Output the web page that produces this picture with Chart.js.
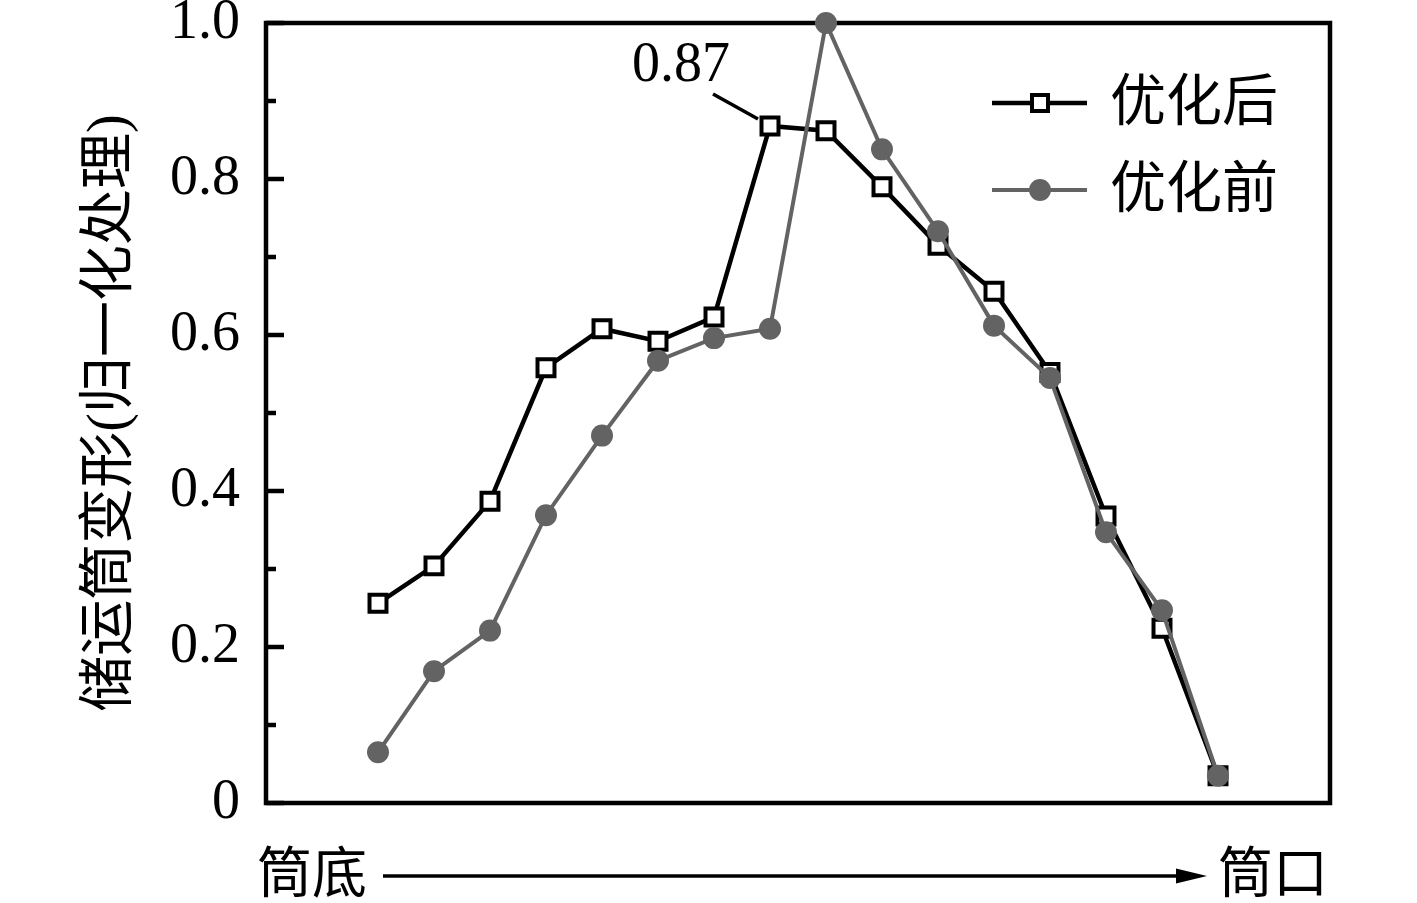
<!DOCTYPE html>
<html>
<head>
<meta charset="utf-8">
<script src="https://cdn.jsdelivr.net/npm/chart.js@4"></script>
<style>
  html, body { margin: 0; padding: 0; background: #fff; }
  #wrap { width: 1417px; height: 903px; position: relative; }
</style>
</head>
<body>
<div id="wrap"><canvas id="c"></canvas></div>
<script>
// ---- data ----
const positions = [1, 2, 3, 4, 5, 6, 7, 8, 9, 10, 11, 12, 13, 14, 15, 16];
const afterValues = [0.256, 0.304, 0.387, 0.558, 0.608, 0.592, 0.623, 0.868, 0.862, 0.790, 0.715, 0.656, 0.552, 0.368, 0.224, 0.035];
const beforeValues = [0.065, 0.169, 0.221, 0.369, 0.471, 0.567, 0.596, 0.608, 1.0, 0.838, 0.733, 0.612, 0.545, 0.347, 0.247, 0.035];
const seriesLabels = ['优化后', '优化前'];
const yTickLabels = ['0', '0.2', '0.4', '0.6', '0.8', '1.0'];
const yTitle = '储运筒变形(归一化处理)';
const xStartLabel = '筒底';
const xEndLabel = '筒口';
const annotationText = '0.87';
const annotationIndex = 7;

const FONT = '"Liberation Serif", "Times New Roman", "Noto Sans CJK SC", serif';
const GREY = '#636363';

const toPts = (vals) => positions.map((p, i) => ({ x: p, y: vals[i] }));

const decorPlugin = {
  id: 'decor',
  beforeDatasetsDraw(chart) {
    const { ctx, chartArea: a, scales } = chart;
    const y = scales.y;
    ctx.save();
    ctx.strokeStyle = '#000';
    ctx.lineWidth = 4.5;
    y.ticks.forEach(t => {
      const k = Math.round(t.value * 10);
      const py = y.getPixelForValue(t.value);
      const len = (k % 2 === 0) ? 18 : 10;
      ctx.beginPath();
      ctx.moveTo(a.left, py);
      ctx.lineTo(a.left + len, py);
      ctx.stroke();
    });
    ctx.beginPath();
    ctx.rect(a.left, a.top, a.right - a.left, a.bottom - a.top);
    ctx.stroke();
    ctx.restore();
  },
  afterDraw(chart) {
    const { ctx, scales } = chart;
    const xs = scales.x, ys = scales.y;
    ctx.save();
    // annotation with leader line
    const px = xs.getPixelForValue(positions[annotationIndex]);
    const py = ys.getPixelForValue(afterValues[annotationIndex]);
    ctx.strokeStyle = '#000';
    ctx.lineWidth = 3.5;
    ctx.beginPath();
    ctx.moveTo(px - 57, py - 32);
    ctx.lineTo(px - 12, py - 7);
    ctx.stroke();
    ctx.fillStyle = '#000';
    ctx.font = '56px ' + FONT;
    ctx.textAlign = 'right';
    ctx.textBaseline = 'alphabetic';
    ctx.fillText(annotationText, px - 40, py - 45);

    // custom legend
    const ds = chart.data.datasets;
    const legendRows = [103, 190];
    ds.forEach((d, i) => {
      const ly = legendRows[i];
      ctx.strokeStyle = d.borderColor;
      ctx.lineWidth = d.borderWidth;
      ctx.beginPath();
      ctx.moveTo(992, ly);
      ctx.lineTo(1087, ly);
      ctx.stroke();
      if (d.pointStyle === 'rect') {
        ctx.fillStyle = '#fff';
        ctx.lineWidth = 4;
        ctx.strokeStyle = '#000';
        ctx.fillRect(1032, ly - 8, 16, 16);
        ctx.strokeRect(1032, ly - 8, 16, 16);
      } else {
        ctx.fillStyle = d.pointBackgroundColor;
        ctx.beginPath();
        ctx.arc(1040, ly, 11, 0, Math.PI * 2);
        ctx.fill();
      }
      ctx.fillStyle = '#000';
      ctx.font = '56px ' + FONT;
      ctx.textAlign = 'left';
      ctx.textBaseline = 'middle';
      ctx.fillText(d.label, 1110, ly + 2);
    });

    // bottom arrow
    const ay = 876;
    ctx.strokeStyle = '#000';
    ctx.fillStyle = '#000';
    ctx.lineWidth = 3.5;
    ctx.beginPath();
    ctx.moveTo(383, ay);
    ctx.lineTo(1180, ay);
    ctx.stroke();
    ctx.beginPath();
    ctx.moveTo(1207, ay);
    ctx.lineTo(1176, ay - 7.5);
    ctx.lineTo(1176, ay + 7.5);
    ctx.closePath();
    ctx.fill();
    ctx.font = '55px ' + FONT;
    ctx.textBaseline = 'middle';
    ctx.textAlign = 'left';
    ctx.fillText(xStartLabel, 257, ay + 2);
    ctx.fillText(xEndLabel, 1218, ay + 2);
    ctx.restore();
  }
};

new Chart(document.getElementById('c'), {
  type: 'line',
  data: {
    datasets: [
      {
        label: seriesLabels[0],
        data: toPts(afterValues),
        borderColor: '#000',
        borderWidth: 4.5,
        pointStyle: 'rect',
        pointRadius: 12,
        pointBorderWidth: 4,
        pointBorderColor: '#000',
        pointBackgroundColor: '#fff',
        tension: 0,
        clip: false,
        order: 2
      },
      {
        label: seriesLabels[1],
        data: toPts(beforeValues),
        borderColor: GREY,
        borderWidth: 4,
        pointStyle: 'circle',
        pointRadius: 11,
        pointBorderWidth: 0,
        pointBorderColor: GREY,
        pointBackgroundColor: GREY,
        tension: 0,
        clip: false,
        order: 1
      }
    ]
  },
  options: {
    responsive: true,
    maintainAspectRatio: false,
    animation: false,
    events: [],
    layout: { padding: { left: 0, top: 23, right: 87, bottom: 100 }, autoPadding: false },
    plugins: { legend: { display: false }, tooltip: { enabled: false } },
    scales: {
      x: {
        type: 'linear',
        min: -1,
        max: 18,
        display: false
      },
      y: {
        type: 'linear',
        min: 0,
        max: 1,
        afterFit(scale) {
          scale.width = 266;
          scale.paddingTop = 0;
          scale.paddingBottom = 0;
        },
        grid: { display: false, drawTicks: false },
        border: { display: false },
        ticks: {
          stepSize: 0.1,
          autoSkip: false,
          padding: 26,
          color: '#000',
          font: { family: FONT, size: 56 },
          callback(v) {
            const k = Math.round(v * 10);
            return (k % 2 === 0) ? yTickLabels[k / 2] : '';
          }
        },
        title: {
          display: true,
          text: yTitle,
          color: '#000',
          font: { family: FONT, size: 56 },
          padding: { top: 78, bottom: 0 }
        }
      }
    }
  },
  plugins: [decorPlugin]
});
</script>
</body>
</html>
